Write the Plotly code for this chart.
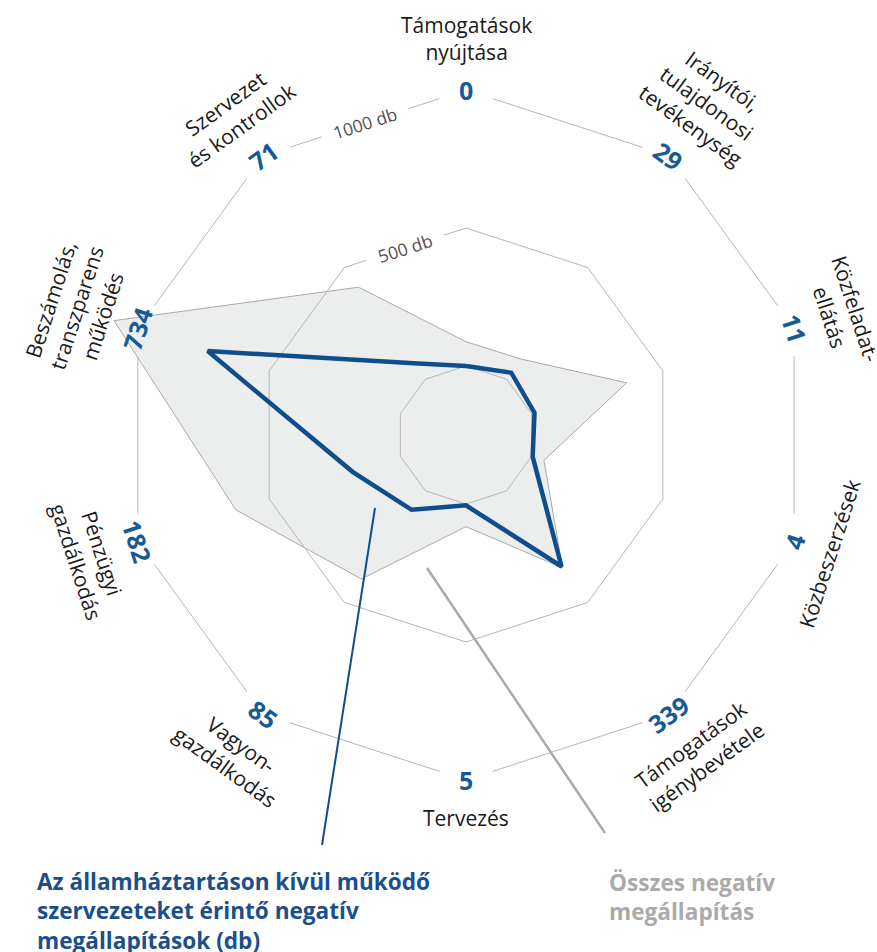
import math
import plotly.graph_objects as go

# ---------------- data ----------------
categories = [
    "Támogatások nyújtása",
    "Irányítói, tulajdonosi tevékenység",
    "Közfeladat-ellátás",
    "Közbeszerzések",
    "Támogatások igénybevétele",
    "Tervezés",
    "Vagyongazdálkodás",
    "Pénzügyi gazdálkodás",
    "Beszámolás, transzparens működés",
    "Szervezet és kontrollok",
]
category_labels = [
    "Támogatások<br>nyújtása",
    "Irányítói,<br>tulajdonosi<br>tevékenység",
    "Közfeladat-<br>ellátás",
    "Közbeszerzések",
    "Támogatások<br>igénybevétele",
    "Tervezés",
    "Vagyon-<br>gazdálkodás",
    "Pénzügyi<br>gazdálkodás",
    "Beszámolás,<br>transzparens<br>működés",
    "Szervezet<br>és kontrollok",
]
outside_values = [0, 29, 11, 4, 339, 5, 85, 182, 734, 71]      # blue series
total_values = [88, 90, 362, 47, 345, 82, 395, 627, 1091, 412]  # grey area
ring_values = [0, 500, 1000]
ring_labels = ["", "500 db", "1000 db"]
legend_blue = "Az államháztartáson kívül működő<br>szervezeteket érintő negatív<br>megállapítások (db)"
legend_grey = "Összes negatív<br>megállapítás"

# ---------------- layout constants ----------------
W, H = 877, 952
CX, CY = 466, 435          # centre of the radar in px (figure coords)
R_MIN, R_MAX = -250, 1100  # radial range
R_OUTER_PX = 345           # px radius of the 1000 ring
scale = R_OUTER_PX / (1000 - R_MIN)
RADIUS_PX = (R_MAX - R_MIN) * scale

dom_x = [(CX - RADIUS_PX) / W, (CX + RADIUS_PX) / W]
dom_y = [1 - (CY + RADIUS_PX) / H, 1 - (CY - RADIUS_PX) / H]

FONT = "Open Sans"
BLUE_LINE = "#0f4e8c"
BLUE_TXT = "#165a98"
GRID = "#b5b5b5"

n = len(categories)
bearings = [i * 360 / n for i in range(n)]


def to_paper(value, bearing, extra_px=0.0):
    r = (value - R_MIN) * scale + extra_px
    b = math.radians(bearing)
    xp = CX + r * math.sin(b)
    yp = CY - r * math.cos(b)
    return xp / W, 1 - yp / H


def px(xp, yp):
    """figure px -> paper coords"""
    return xp / W, 1 - yp / H


def tangent_angle(b):
    b = b % 360
    if 90 < b < 270:
        return b - 180
    if b >= 270:
        return b - 360
    return b


theta_closed = categories + [categories[0]]

fig = go.Figure()

# outer ring (with white gaps at the vertices)
fig.add_trace(go.Scatterpolar(
    r=[ring_values[-1]] * (n + 1), theta=theta_closed,
    mode="lines+markers",
    line=dict(color=GRID, width=1),
    marker=dict(color="white", size=56),
    hoverinfo="skip",
))

# total negative findings (grey area)
fig.add_trace(go.Scatterpolar(
    r=total_values + [total_values[0]], theta=theta_closed,
    mode="lines", fill="toself",
    fillcolor="#eceeee",
    line=dict(color="#a8a8a8", width=1),
    hoverinfo="skip",
))

# inner rings
for rv in ring_values[:-1]:
    fig.add_trace(go.Scatterpolar(
        r=[rv] * (n + 1), theta=theta_closed,
        mode="lines", line=dict(color=GRID, width=1),
        hoverinfo="skip",
    ))

# blue series
fig.add_trace(go.Scatterpolar(
    r=outside_values + [outside_values[0]], theta=theta_closed,
    mode="lines", line=dict(color=BLUE_LINE, width=4.5),
    hoverinfo="skip",
))

annotations = []

# value labels at the outer vertices
for i, b in enumerate(bearings):
    x, y = to_paper(ring_values[-1], b)
    annotations.append(dict(
        x=x, y=y, xref="paper", yref="paper", showarrow=False,
        text="<b>%d</b>" % outside_values[i], textangle=tangent_angle(b),
        font=dict(family=FONT, size=25, color=BLUE_TXT),
        xanchor="center", yanchor="middle",
    ))

# category labels
for i, b in enumerate(bearings):
    nlines = category_labels[i].count("<br>") + 1
    x, y = to_paper(ring_values[-1], b, 24 + 13.5 * nlines)
    annotations.append(dict(
        x=x, y=y, xref="paper", yref="paper", showarrow=False,
        text=category_labels[i], textangle=tangent_angle(b), align="center",
        font=dict(family=FONT, size=21, color="#1a1a1a"),
        xanchor="center", yanchor="middle",
    ))

# ring labels (on the edge between the first and last axes)
half = 360 / n / 2
for rv, lab in zip(ring_values, ring_labels):
    if not lab:
        continue
    rpx = (rv - R_MIN) * scale * math.cos(math.radians(half))
    b = math.radians(360 - half)
    x = (CX + rpx * math.sin(b)) / W
    y = 1 - (CY - rpx * math.cos(b)) / H
    annotations.append(dict(
        x=x, y=y, xref="paper", yref="paper", showarrow=False,
        text=lab, textangle=-half, bgcolor="white", borderpad=12,
        font=dict(family=FONT, size=17.5, color="#505050"),
        xanchor="center", yanchor="middle",
    ))

# legend texts
lx, ly = px(35, 911)
annotations.append(dict(
    x=lx, y=ly, xref="paper", yref="paper", showarrow=False,
    text="<b>" + legend_blue.replace("<br>", "</b><br><b>") + "</b>", align="left",
    font=dict(family=FONT, size=22.6, color="#1a4f8b"),
    xanchor="left", yanchor="middle",
))
gx, gy = px(607, 897)
annotations.append(dict(
    x=gx, y=gy, xref="paper", yref="paper", showarrow=False,
    text="<b>" + legend_grey.replace("<br>", "</b><br><b>") + "</b>", align="left",
    font=dict(family=FONT, size=22.6, color="#aaaaaa"),
    xanchor="left", yanchor="middle",
))

# leader lines
b0 = px(322, 845); b1 = px(375, 508)
g0 = px(605, 833); g1 = px(427, 568)
shapes = [
    dict(type="line", xref="paper", yref="paper", x0=b0[0], y0=b0[1], x1=b1[0], y1=b1[1],
         line=dict(color=BLUE_LINE, width=2)),
    dict(type="line", xref="paper", yref="paper", x0=g0[0], y0=g0[1], x1=g1[0], y1=g1[1],
         line=dict(color="#aaaaaa", width=2.5)),
]

fig.update_layout(
    width=W, height=H, autosize=False,
    margin=dict(l=0, r=0, t=0, b=0),
    paper_bgcolor="white", plot_bgcolor="white",
    showlegend=False,
    polar=dict(
        domain=dict(x=dom_x, y=dom_y),
        bgcolor="rgba(0,0,0,0)",
        gridshape="linear",
        radialaxis=dict(range=[R_MIN, R_MAX], visible=False, showgrid=False, showline=False),
        angularaxis=dict(type="category", categoryarray=categories, direction="clockwise", rotation=90,
                         showgrid=False, showline=False, showticklabels=False, ticks=""),
    ),
    annotations=annotations,
    shapes=shapes,
)

fig.write_html(
    "out.html",
    config={"displayModeBar": False},
    post_script="document.body.style.margin='0px';document.body.style.overflow='hidden';",
)
